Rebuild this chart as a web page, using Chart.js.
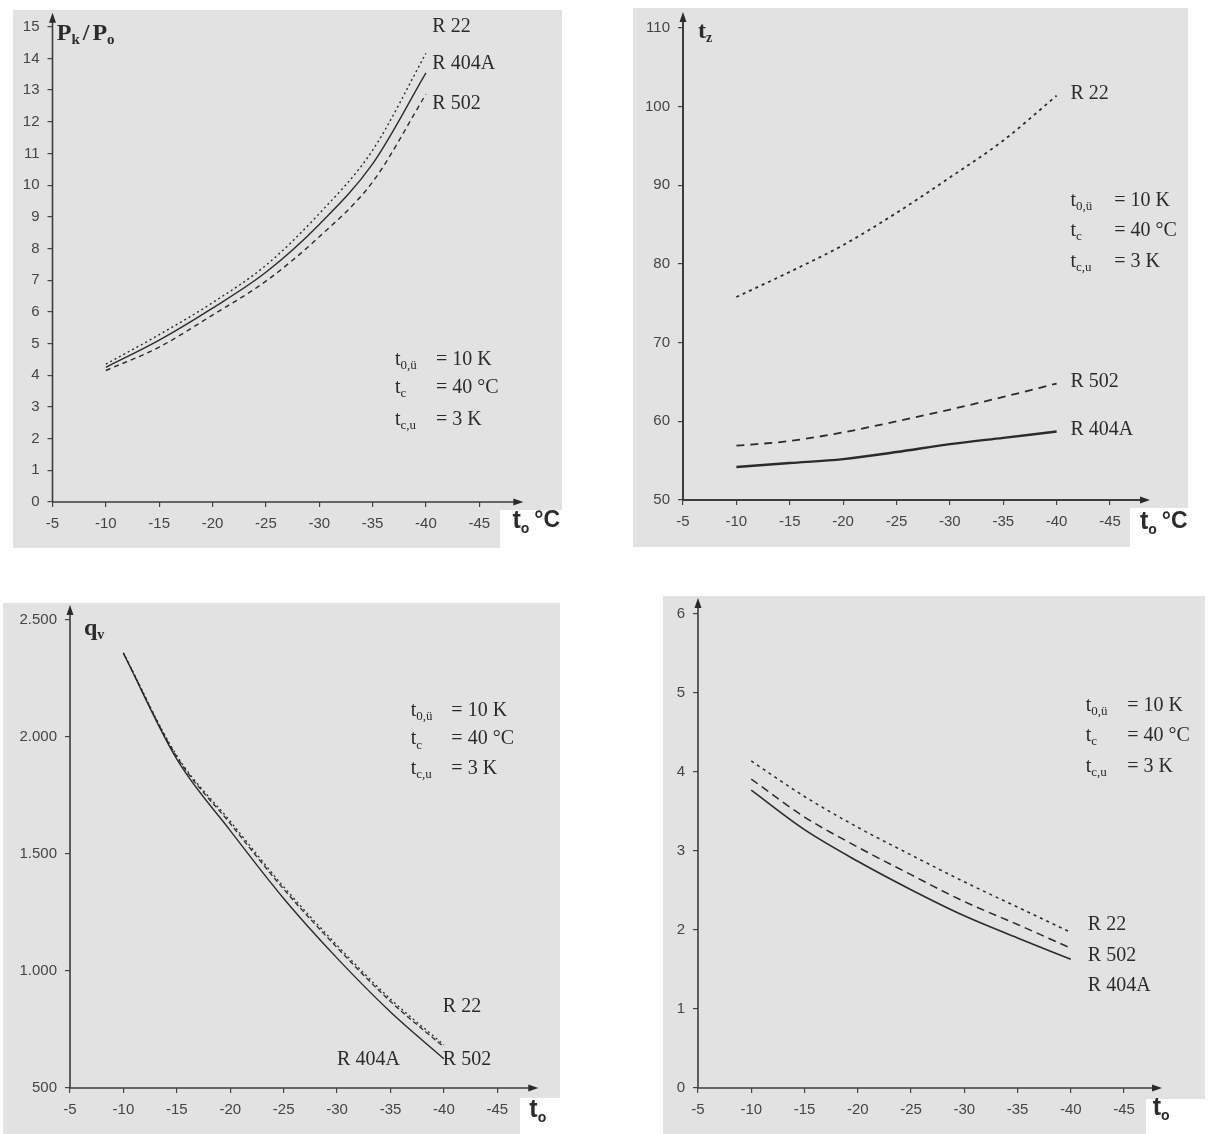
<!DOCTYPE html>
<html>
<head>
<meta charset="utf-8">
<script src="https://cdn.jsdelivr.net/npm/chart.js@4.4.1/dist/chart.umd.min.js"></script>
<style>
  html, body { margin: 0; padding: 0; background: #fff; }
  body { width: 1209px; height: 1134px; position: relative; overflow: hidden; }
  canvas { position: absolute; }
</style>
</head>
<body>
<canvas id="c1" width="604" height="567" style="left:0px;top:0px"></canvas>
<canvas id="c2" width="605" height="567" style="left:604px;top:0px"></canvas>
<canvas id="c3" width="604" height="567" style="left:0px;top:567px"></canvas>
<canvas id="c4" width="605" height="567" style="left:604px;top:567px"></canvas>
<script>
// evaporating temperature t0 in °C (x axis runs from -5 to -45)
const t0 = [-10, -15, -20, -25, -30, -35, -40];
const xTicks = [-5, -10, -15, -20, -25, -30, -35, -40, -45];

// pressure ratio pk/p0
const ratioR22 = [4.35, 5.28, 6.29, 7.47, 9.10, 11.10, 14.16];
const ratioR404A = [4.25, 5.11, 6.12, 7.25, 8.76, 10.67, 13.54];
const ratioR502 = [4.15, 4.89, 5.90, 6.97, 8.37, 10.10, 12.87];

// discharge temperature tz in °C
const tzR22 = [75.8, 79.0, 82.4, 86.5, 91.0, 95.7, 101.4];
const tzR502 = [56.9, 57.5, 58.6, 60.0, 61.5, 63.1, 64.8];
const tzR404A = [54.2, 54.7, 55.2, 56.1, 57.1, 57.9, 58.7];

// volumetric cooling capacity qv
const qvR22 = [2360, 1920, 1640, 1360, 1110, 880, 685];
const qvR502 = [2358, 1915, 1630, 1350, 1100, 870, 675];
const qvR404A = [2358, 1905, 1600, 1310, 1055, 825, 625];

// coefficient of performance
const copR22 = [4.14, 3.69, 3.30, 2.95, 2.61, 2.29, 1.97];
const copR502 = [3.91, 3.43, 3.05, 2.70, 2.36, 2.07, 1.77];
const copR404A = [3.77, 3.27, 2.87, 2.51, 2.18, 1.90, 1.63];

const BG = "#e2e2e2";
const INK = "#2b2b2b";
const SERIF = '"Liberation Serif", "DejaVu Serif", serif';
const SANS = '"Liberation Sans", Arial, sans-serif';

const params = [
  { sub: "0,ü", val: "= 10 K" },
  { sub: "c", val: "= 40 °C" },
  { sub: "c,u", val: "= 3 K" },
];

function points(values) {
  return t0.map((t, i) => ({ x: t, y: values[i] }));
}

function line(label, values, dash, width) {
  return {
    label: label,
    data: points(values),
    borderColor: INK,
    borderWidth: width,
    borderDash: dash,
    pointRadius: 0,
    fill: false,
    cubicInterpolationMode: "monotone",
  };
}

// draws a run of text pieces, each with own font and vertical shift
function runs(ctx, x, y, parts) {
  for (const p of parts) {
    ctx.font = p.f;
    ctx.fillText(p.t, x, y + (p.dy || 0));
    x += ctx.measureText(p.t).width + (p.gap || 0);
  }
  return x;
}

function deco(cfg) {
  return {
    id: "deco" + cfg.id,
    beforeDraw(chart) {
      const ctx = chart.ctx;
      ctx.save();
      ctx.fillStyle = BG;
      for (const r of cfg.bg) {
        ctx.fillRect(r[0] - cfg.ox, r[1] - cfg.oy, r[2] - r[0], r[3] - r[1]);
      }
      ctx.restore();
    },
    afterDraw(chart) {
      const ctx = chart.ctx;
      const a = chart.chartArea;
      const sx = chart.scales.x, sy = chart.scales.y;
      const px = (v) => sx.getPixelForValue(v);
      const py = (v) => sy.getPixelForValue(v);
      ctx.save();

      // axes with arrow heads
      ctx.strokeStyle = "#3c3c3c";
      ctx.fillStyle = "#2a2a2a";
      ctx.lineWidth = cfg.axisWidth;
      const topY = a.top - cfg.arrowY, tipX = a.right + cfg.arrowX;
      ctx.beginPath();
      ctx.moveTo(a.left, a.bottom);
      ctx.lineTo(a.left, topY + 4);
      ctx.moveTo(a.left, a.bottom);
      ctx.lineTo(tipX - 4, a.bottom);
      ctx.stroke();
      ctx.beginPath();
      ctx.moveTo(a.left, topY);
      ctx.lineTo(a.left - 3.5, topY + 10);
      ctx.lineTo(a.left + 3.5, topY + 10);
      ctx.closePath();
      ctx.fill();
      ctx.beginPath();
      ctx.moveTo(tipX, a.bottom);
      ctx.lineTo(tipX - 10, a.bottom - 3.5);
      ctx.lineTo(tipX - 10, a.bottom + 3.5);
      ctx.closePath();
      ctx.fill();

      ctx.fillStyle = INK;
      ctx.textBaseline = "middle";
      ctx.textAlign = "left";

      // curve labels
      ctx.font = "20px " + SERIF;
      for (const l of cfg.labels) {
        ctx.fillText(l.text, px(l.x), py(l.y));
      }

      // operating conditions
      cfg.params.ys.forEach((yv, i) => {
        const p = params[i];
        runs(ctx, px(cfg.params.x), py(yv), [
          { t: "t", f: "20px " + SERIF },
          { t: p.sub, f: "13px " + SERIF, dy: 6 },
        ]);
        ctx.font = "20px " + SERIF;
        ctx.fillText(p.val, px(cfg.params.eq), py(yv));
      });

      // axis titles
      if (cfg.yTitle) {
        runs(ctx, px(cfg.yTitle.x), py(cfg.yTitle.y), cfg.yTitle.parts);
      }
      const xt = cfg.xTitle;
      const parts = [
        { t: "t", f: "bold 25px " + SANS },
        { t: "o", f: "bold 14px " + SANS, dy: 8, gap: 5 },
      ];
      if (xt.unit) parts.push({ t: "°C", f: "bold 23px " + SANS });
      runs(ctx, px(xt.x), py(xt.y), parts);

      ctx.restore();
    },
  };
}

function makePanel(cfg) {
  // y axis box reaches almost to the canvas edge so its labels are not clipped
  const yWidth = cfg.axisX - 2;
  return new Chart(document.getElementById(cfg.id), {
    type: "line",
    data: { datasets: cfg.datasets },
    options: {
      responsive: false,
      animation: false,
      devicePixelRatio: 1,
      layout: { padding: { left: 2, right: cfg.pad.right, top: cfg.pad.top, bottom: cfg.pad.bottom } },
      plugins: { legend: { display: false }, tooltip: { enabled: false } },
      scales: {
        x: {
          type: "linear",
          min: -45,
          max: -5,
          reverse: true,
          afterBuildTicks: (s) => { s.ticks = xTicks.map((v) => ({ value: v })); },
          afterFit: (s) => { s.height = 30; },
          ticks: { color: "#454545", font: { family: SANS, size: 15 }, padding: 8 },
          grid: { drawOnChartArea: false, drawTicks: true, tickLength: 5, color: "#454545", lineWidth: 1.2 },
          border: { display: false },
        },
        y: {
          min: cfg.yMin,
          max: cfg.yMax,
          ticks: {
            stepSize: cfg.yStep,
            color: "#454545",
            font: { family: SANS, size: 15 },
            padding: 8,
            callback: cfg.yFmt || ((v) => v),
          },
          afterFit: (s) => { s.width = yWidth; },
          grid: { drawOnChartArea: false, drawTicks: true, tickLength: 5, color: "#454545", lineWidth: 1.2 },
          border: { display: false },
        },
      },
    },
    plugins: [deco(cfg)],
  });
}

const titleBold = (size) => "bold " + size + "px " + SERIF;

makePanel({
  id: "c1", ox: 0, oy: 0, axisX: 52.5,
  pad: { right: 124.7, top: 26.7, bottom: 35 },
  bg: [[13, 10, 562, 510], [13, 510, 500, 548]],
  yMin: 0, yMax: 15, yStep: 1,
  axisWidth: 1.6, arrowX: 44, arrowY: 14,
  datasets: [
    line("R 22", ratioR22, [2, 3], 1.4),
    line("R 404A", ratioR404A, [], 1.4),
    line("R 502", ratioR502, [5, 4], 1.4),
  ],
  labels: [
    { text: "R 22", x: -40.6, y: 15.0 },
    { text: "R 404A", x: -40.6, y: 13.82 },
    { text: "R 502", x: -40.6, y: 12.56 },
  ],
  params: { x: -37.1, eq: -40.94, ys: [4.49, 3.6, 2.59] },
  yTitle: {
    x: -5.4, y: 14.77,
    parts: [
      { t: "P", f: titleBold(24) },
      { t: "k", f: titleBold(15), dy: 6, gap: 3 },
      { t: "/", f: titleBold(24), gap: 3 },
      { t: "P", f: titleBold(24) },
      { t: "o", f: titleBold(15), dy: 6 },
    ],
  },
  xTitle: { x: -48.1, y: -0.6, unit: true },
});

makePanel({
  id: "c2", ox: 604, oy: 0, axisX: 79,
  pad: { right: 99, top: 28, bottom: 37 },
  bg: [[633, 8, 1188, 508], [633, 508, 1130, 547]],
  yMin: 50, yMax: 110, yStep: 10,
  axisWidth: 2, arrowX: 40, arrowY: 16,
  datasets: [
    line("R 22", tzR22, [3, 4], 1.8),
    line("R 502", tzR502, [8, 6], 1.8),
    line("R 404A", tzR404A, [], 2.4),
  ],
  labels: [
    { text: "R 22", x: -41.3, y: 101.6 },
    { text: "R 502", x: -41.3, y: 65.0 },
    { text: "R 404A", x: -41.3, y: 58.9 },
  ],
  params: { x: -41.3, eq: -45.4, ys: [88.06, 84.25, 80.32] },
  yTitle: {
    x: -6.4, y: 109.5,
    parts: [
      { t: "t", f: titleBold(24) },
      { t: "z", f: titleBold(14), dy: 6 },
    ],
  },
  xTitle: { x: -47.8, y: 47.2, unit: true },
});

makePanel({
  id: "c3", ox: 0, oy: 567, axisX: 70,
  pad: { right: 106.7, top: 53, bottom: 16 },
  bg: [[3, 603, 560, 1098], [3, 1098, 520, 1134]],
  yMin: 500, yMax: 2500, yStep: 500,
  yFmt: (v) => String(v).replace(/\B(?=(\d{3})+(?!\d))/g, "."),
  axisWidth: 1.6, arrowX: 41, arrowY: 15,
  datasets: [
    line("R 22", qvR22, [2, 3], 1.3),
    line("R 502", qvR502, [5, 3], 1.3),
    line("R 404A", qvR404A, [], 1.4),
  ],
  labels: [
    { text: "R 22", x: -39.9, y: 846 },
    { text: "R 404A", x: -30.0, y: 620 },
    { text: "R 502", x: -39.9, y: 620 },
  ],
  params: { x: -36.9, eq: -40.7, ys: [2111, 1991, 1863] },
  yTitle: {
    x: -6.3, y: 2461,
    parts: [
      { t: "q", f: titleBold(24) },
      { t: "v", f: titleBold(14), dy: 6 },
    ],
  },
  xTitle: { x: -48.0, y: 406, unit: false },
});

makePanel({
  id: "c4", ox: 604, oy: 567, axisX: 94,
  pad: { right: 85, top: 47, bottom: 16 },
  bg: [[663, 596, 1205, 1099], [663, 1099, 1146, 1134]],
  yMin: 0, yMax: 6, yStep: 1,
  axisWidth: 1.6, arrowX: 38, arrowY: 16,
  datasets: [
    line("R 22", copR22, [3, 4], 1.5),
    line("R 502", copR502, [8, 5], 1.5),
    line("R 404A", copR404A, [], 1.6),
  ],
  labels: [
    { text: "R 22", x: -41.6, y: 2.07 },
    { text: "R 502", x: -41.6, y: 1.68 },
    { text: "R 404A", x: -41.6, y: 1.30 },
  ],
  params: { x: -41.4, eq: -45.3, ys: [4.84, 4.46, 4.07] },
  yTitle: null,
  xTitle: { x: -47.7, y: -0.25, unit: false },
});
</script>
</body>
</html>
